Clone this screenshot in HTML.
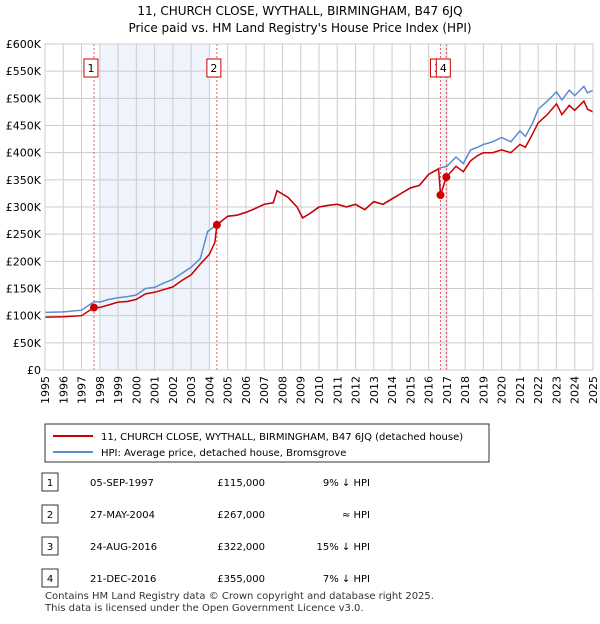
<!DOCTYPE html>
<html><head><meta charset="utf-8"><style>
body{margin:0;background:#fff;font-family:"DejaVu Sans","Liberation Sans",sans-serif;}
svg text{font-family:"DejaVu Sans","Liberation Sans",sans-serif;}
</style></head><body>
<svg width="600" height="620" xmlns="http://www.w3.org/2000/svg">
<text x="300" y="15" text-anchor="middle" font-size="12">11, CHURCH CLOSE, WYTHALL, BIRMINGHAM, B47 6JQ</text>
<text x="300" y="32" text-anchor="middle" font-size="12">Price paid vs. HM Land Registry's House Price Index (HPI)</text>
<g id="plot"></g>
<g>
<rect x="45" y="424" width="444" height="38" fill="#fff" stroke="#333"/>
<line x1="53" y1="436" x2="93" y2="436" stroke="#cc0000" stroke-width="2"/>
<text x="101" y="440" font-size="10">11, CHURCH CLOSE, WYTHALL, BIRMINGHAM, B47 6JQ (detached house)</text>
<line x1="53" y1="452" x2="93" y2="452" stroke="#5b8dd0" stroke-width="2"/>
<text x="101" y="456" font-size="10">HPI: Average price, detached house, Bromsgrove</text>
</g>
<g id="table" font-size="10"></g>
<text x="45" y="599" font-size="10" fill="#333">Contains HM Land Registry data © Crown copyright and database right 2025.</text>
<text x="45" y="611" font-size="10" fill="#333">This data is licensed under the Open Government Licence v3.0.</text>
</svg>
<script>
const yTicks=[0,50,100,150,200,250,300,350,400,450,500,550,600];
const yLabels=["£0","£50K","£100K","£150K","£200K","£250K","£300K","£350K","£400K","£450K","£500K","£550K","£600K"];
const years=[1995,1996,1997,1998,1999,2000,2001,2002,2003,2004,2005,2006,2007,2008,2009,2010,2011,2012,2013,2014,2015,2016,2017,2018,2019,2020,2021,2022,2023,2024,2025];
const hpiT=[1995,1996,1997,1997.7,1998,1998.5,1999,1999.5,2000,2000.5,2001,2001.5,2002,2002.5,2003,2003.5,2003.9,2004.4,2005,2005.5,2006,2006.5,2007,2007.5,2007.7,2008.3,2008.8,2009.1,2009.5,2010,2010.5,2011,2011.5,2012,2012.5,2013,2013.5,2014,2014.5,2015,2015.5,2016,2016.6,2017,2017.5,2017.9,2018.3,2018.7,2019,2019.5,2020,2020.5,2021,2021.3,2021.7,2022,2022.5,2023,2023.3,2023.7,2024,2024.5,2024.7,2025];
const hpiV=[106,107,110,126,125,130,133,135,138,150,152,160,167,178,189,205,255,267,283,285,290,297,305,308,330,318,300,280,288,300,303,305,300,305,295,310,305,315,325,335,340,360,372,375,392,380,405,410,415,420,428,420,440,430,455,480,495,512,497,515,505,522,510,515];
const redT=[1995,1996,1997,1997.68,1998,1999,1999.5,2000,2000.5,2001,2002,2002.5,2003,2003.5,2004,2004.3,2004.41,2005,2005.5,2006,2006.5,2007,2007.5,2007.7,2008.3,2008.8,2009.1,2009.5,2010,2010.5,2011,2011.5,2012,2012.5,2013,2013.5,2014,2014.5,2015,2015.5,2016,2016.55,2016.65,2016.97,2017.5,2017.9,2018.3,2018.7,2019,2019.5,2020,2020.5,2021,2021.3,2021.7,2022,2022.5,2023,2023.3,2023.7,2024,2024.5,2024.7,2025];
const redV=[97,98,100,115,115,125,126,130,140,143,153,165,175,195,213,235,267,283,285,290,297,305,308,330,318,300,280,288,300,303,305,300,305,295,310,305,315,325,335,340,360,370,322,355,375,365,385,395,400,400,405,400,415,410,435,455,470,490,470,487,478,495,480,475];
const sales=[{n:"1",t:1997.68,v:115,d:"05-SEP-1997",p:"£115,000",h:"9% ↓ HPI"},{n:"2",t:2004.41,v:267,d:"27-MAY-2004",p:"£267,000",h:"≈ HPI"},{n:"3",t:2016.65,v:322,d:"24-AUG-2016",p:"£322,000",h:"15% ↓ HPI"},{n:"4",t:2016.97,v:355,d:"21-DEC-2016",p:"£355,000",h:"7% ↓ HPI"}];
const X0=45,X1=593,Y0=370,Y1=44;
const x=t=>X0+(t-1995)/30*(X1-X0);
const y=v=>Y0-v/600*(Y0-Y1);
const NS="http://www.w3.org/2000/svg";
function mk(tag,attrs,parent,txt){const e=document.createElementNS(NS,tag);for(const k in attrs)e.setAttribute(k,attrs[k]);if(txt!==undefined)e.textContent=txt;parent.appendChild(e);return e;}
const g=document.getElementById('plot');
let e;
e=mk('rect',{x:x(1998),y:Y1,width:x(2004.03)-x(1998),height:Y0-Y1,fill:'#eef3fc'},g);


e=mk('rect',{x:x(2016.65),y:Y1,width:x(2016.97)-x(2016.65),height:Y0-Y1,fill:'#eef3fc'},g);


years.forEach(yr=>{
 e=mk('line',{x1:x(yr),x2:x(yr),y1:Y1,y2:Y0,stroke:'#cccccc'},g);
 
 
 e=mk('text',{x:0,y:0,transform:`translate(${x(yr)+4},${Y0+6}) rotate(-90)`,'text-anchor':'end','font-size':11},g,String(yr));
 
 
});
yTicks.forEach((v,i)=>{
 e=mk('line',{x1:X0,x2:X1,y1:y(v),y2:y(v),stroke:'#cccccc'},g);
 
 
 e=mk('text',{x:X0-4,y:y(v)+4,'text-anchor':'end','font-size':11},g,yLabels[i]);
 
 
});
sales.forEach(s=>{
 e=mk('line',{x1:x(s.t),x2:x(s.t),y1:Y1,y2:Y0,stroke:'#ee5555','stroke-dasharray':'2,2'},g);
 
 
});
e=mk('path',{d:hpiT.map((t,i)=>(i?'L':'M')+x(t).toFixed(1)+','+y(hpiV[i]).toFixed(1)).join(''),fill:'none',stroke:'#5b8dd0','stroke-width':1.5},g);


e=mk('path',{d:redT.map((t,i)=>(i?'L':'M')+x(t).toFixed(1)+','+y(redV[i]).toFixed(1)).join(''),fill:'none',stroke:'#cc0000','stroke-width':1.5},g);


sales.forEach((s,i)=>{
 e=mk('circle',{cx:x(s.t),cy:y(s.v),r:4,fill:'#cc0000'},g);
 
 
 const bx=x(s.t)-10;
 const lb=mk('g',{},g);
 
 
 mk('rect',{x:bx,y:59,width:14,height:18,fill:'#fff',stroke:'#cc0000'},lb);
 mk('text',{x:bx+7,y:72,'text-anchor':'middle','font-size':11},lb,s.n);
});
e=mk('rect',{x:X0,y:Y1,width:X1-X0,height:Y0-Y1,fill:'none',stroke:'#cccccc'},g);


const tb=document.getElementById('table');
sales.forEach((s,i)=>{
 const ry=482+i*32;
 const r=mk('g',{},tb);
 
 
 mk('rect',{x:42,y:ry-9,width:16,height:18,fill:'#fff',stroke:'#333'},r);
 mk('text',{x:50,y:ry+4,'text-anchor':'middle'},r,s.n);
 mk('text',{x:90,y:ry+4},r,s.d);
 mk('text',{x:265,y:ry+4,'text-anchor':'end'},r,s.p);
 mk('text',{x:370,y:ry+4,'text-anchor':'end'},r,s.h);
});
</script>
</body></html>
